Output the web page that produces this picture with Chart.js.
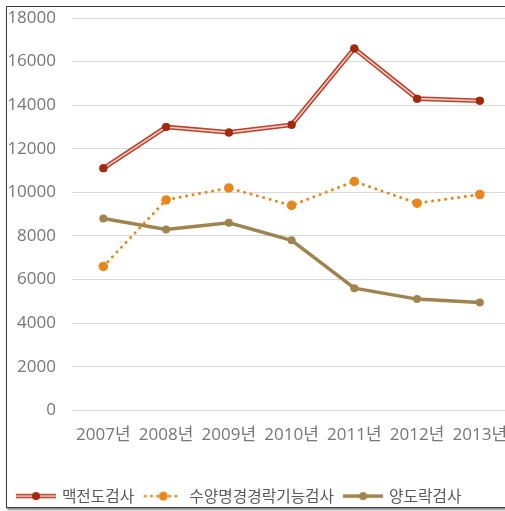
<!DOCTYPE html>
<html>
<head>
<meta charset="utf-8">
<script src="https://cdn.jsdelivr.net/npm/chart.js@4/dist/chart.umd.min.js"></script>
<style>
  html, body { margin: 0; padding: 0; background: #fff; overflow: hidden; width: 505px; height: 511px; }
  #marco { position: absolute; left: 6px; top: 6px; width: 540px; height: 500px; border: 1.5px solid #3a3a3a; box-shadow: 1px 2px 2px #8a8a8a; pointer-events: none; }
  #grafica { position: absolute; left: 0; top: 0; }
</style>
</head>
<body>
<canvas id="grafica" width="516" height="514"></canvas>
<div id="marco"></div>
<script>
var anios = ['2007년', '2008년', '2009년', '2010년', '2011년', '2012년', '2013년'];
var nombres = ['맥전도검사', '수양명경경락기능검사', '양도락검사'];
var maekjeondo = [11100, 13000, 12750, 13100, 16600, 14300, 14200];
var suyangmyeong = [6600, 9650, 10200, 9400, 10500, 9500, 9900];
var yangdorak = [8800, 8300, 8600, 7800, 5600, 5100, 4950];
var yMin = 0, yMax = 18000, yPaso = 2000;

var rojoBorde = '#b5452f';
var rojoInterior = '#f3c9be';
var rojoPunto = '#a4290f';
var naranja = '#e8871e';
var cafe = '#a0844f';
var grisTexto = '#767676';

// icono de leyenda: linea con punto al centro
function Icono(color, ancho, punteado, colorPunto, radio, interior) {
    var c = document.createElement('canvas');
    c.width = 40;
    c.height = 12;
    var g = c.getContext('2d');
    g.strokeStyle = color;
    g.lineWidth = ancho;
    g.lineCap = punteado ? 'round' : 'butt';
    if (punteado) g.setLineDash([0.1, 6]);
    g.beginPath();
    g.moveTo(punteado ? 2 : 0, 6);
    g.lineTo(punteado ? 38 : 40, 6);
    g.stroke();
    if (interior) {
        g.strokeStyle = interior;
        g.lineWidth = 1.5;
        g.beginPath();
        g.moveTo(0, 6);
        g.lineTo(40, 6);
        g.stroke();
    }
    g.setLineDash([]);
    g.fillStyle = colorPunto;
    g.beginPath();
    g.arc(20, 6, radio, 0, Math.PI * 2);
    g.fill();
    return c;
}

var iconos = [
    Icono(rojoBorde, 4.5, false, rojoPunto, 4, rojoInterior),
    Icono(naranja, 3, true, naranja, 4.5, null),
    Icono(cafe, 3.5, false, cafe, 4, null)
];

// linea doble para la primera serie
var lineaDoble = {
    id: 'lineaDoble',
    afterDatasetDraw: function (chart, args) {
        if (args.index !== 0) return;
        var meta = args.meta;
        var ctx = chart.ctx;
        ctx.save();
        ctx.strokeStyle = rojoInterior;
        ctx.lineWidth = 1.6;
        ctx.lineJoin = 'miter';
        ctx.beginPath();
        for (var i = 0; i < meta.data.length; i++) {
            if (i === 0) ctx.moveTo(meta.data[i].x, meta.data[i].y);
            else ctx.lineTo(meta.data[i].x, meta.data[i].y);
        }
        ctx.stroke();
        ctx.restore();
        for (var j = 0; j < meta.data.length; j++) {
            meta.data[j].draw(ctx, chart.chartArea);
        }
    }
};

var ctx = document.getElementById('grafica').getContext('2d');
var myChart = new Chart(ctx, {
    type: 'line',
    data: {
        labels: anios,
        datasets: [{
            label: nombres[0],
            data: maekjeondo,
            borderColor: rojoBorde,
            borderWidth: 4.6,
            borderJoinStyle: 'miter',
            pointBackgroundColor: rojoPunto,
            pointBorderColor: rojoPunto,
            pointRadius: 4,
            pointBorderWidth: 0,
            tension: 0
        }, {
            label: nombres[1],
            data: suyangmyeong,
            borderColor: naranja,
            borderWidth: 3,
            borderDash: [0.1, 6.5],
            borderCapStyle: 'round',
            pointBackgroundColor: naranja,
            pointBorderColor: naranja,
            pointRadius: 4.8,
            pointBorderWidth: 0,
            tension: 0
        }, {
            label: nombres[2],
            data: yangdorak,
            borderColor: cafe,
            borderWidth: 3.5,
            pointBackgroundColor: cafe,
            pointBorderColor: cafe,
            pointRadius: 4,
            pointBorderWidth: 0,
            tension: 0
        }]
    },
    options: {
        responsive: false,
        animation: false,
        layout: { padding: { left: 7, right: 0, top: 18, bottom: 0 } },
        scales: {
            x: {
                offset: true,
                grid: { display: false },
                border: { display: false },
                ticks: {
                    color: grisTexto,
                    padding: 7,
                    maxRotation: 0,
                    autoSkip: false,
                    font: { family: "'Open Sans', 'Noto Sans CJK KR', sans-serif", size: 17 }
                },
                afterFit: function (scale) {
                    scale.height = 67;
                    scale.paddingLeft = 0;
                    scale.paddingRight = 0;
                }
            },
            y: {
                min: yMin,
                max: yMax,
                grid: { color: '#d9d9d9', lineWidth: 1, drawTicks: false },
                border: { display: false },
                ticks: {
                    stepSize: yPaso,
                    color: grisTexto,
                    padding: 16,
                    font: { family: "'Open Sans', sans-serif", size: 17 },
                    callback: function (valor) { return String(valor); }
                },
                afterFit: function (scale) {
                    scale.width = 65;
                    scale.paddingTop = 8;
                    scale.paddingBottom = 8;
                }
            }
        },
        plugins: {
            tooltip: { enabled: false },
            legend: {
                position: 'bottom',
                align: 'start',
                labels: {
                    usePointStyle: true,
                    pointStyleWidth: 36,
                    padding: 11,
                    color: '#595959',
                    font: { family: "'Noto Sans CJK KR', sans-serif", size: 15.75 },
                    generateLabels: function (chart) {
                        var items = Chart.defaults.plugins.legend.labels.generateLabels(chart);
                        items.forEach(function (it) { it.pointStyle = iconos[it.datasetIndex]; });
                        return items;
                    }
                }
            }
        }
    },
    plugins: [lineaDoble]
});
</script>
</body>
</html>
